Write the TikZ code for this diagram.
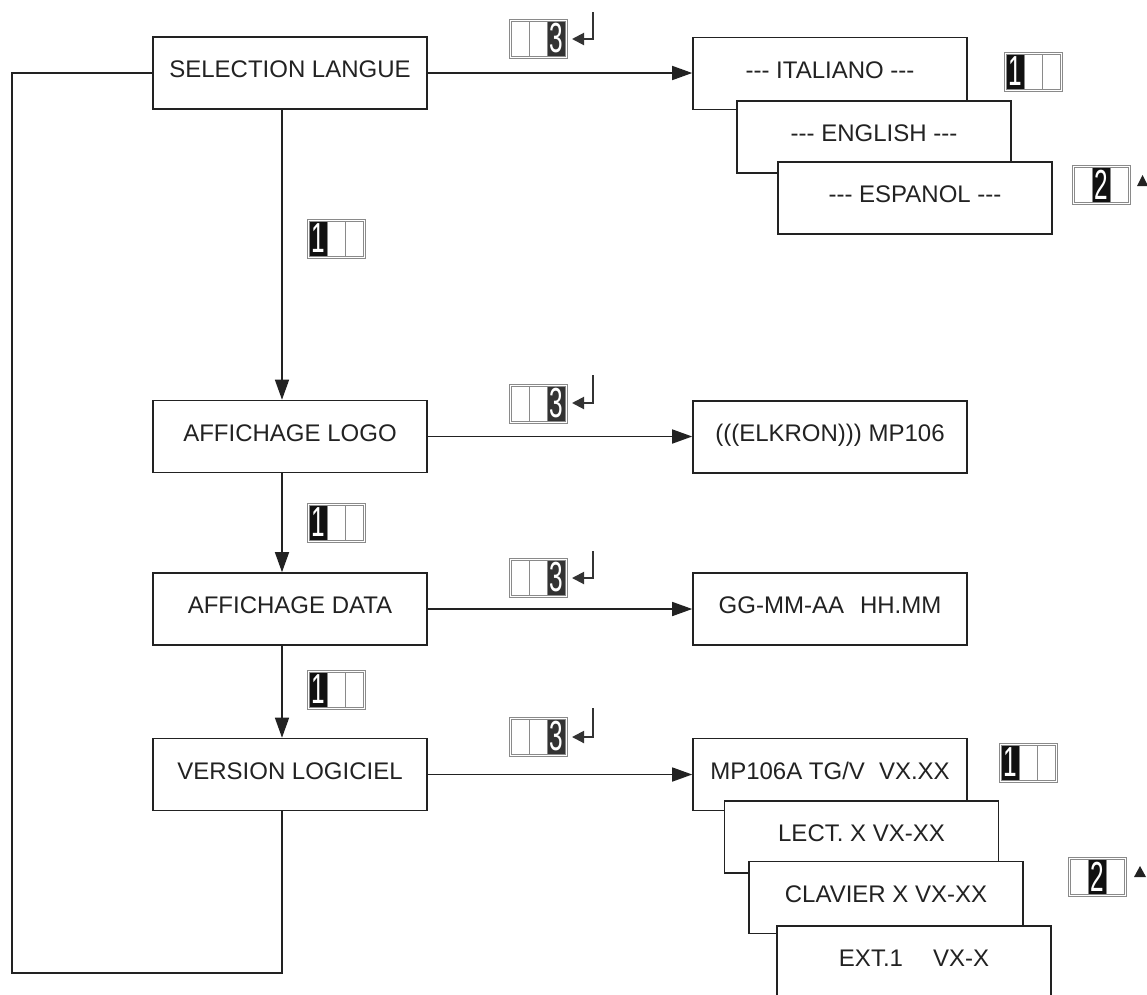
\documentclass[tikz,border=0pt]{standalone}
\usepackage{graphicx}
\usepackage{fontspec}
\setmainfont{Liberation Sans}[Ligatures=TeXOff]
\usetikzlibrary{arrows.meta}
\definecolor{ink}{HTML}{222222}
\definecolor{keygray}{HTML}{8A8A8A}
\definecolor{keydarkA}{HTML}{111111}
\definecolor{keydarkB}{HTML}{333333}
% #1 name, #2 left x, #3 top y, #4 dark cell (1..3), #5 digit, #6 dark colour
\newcommand\keyicon[6]{%
  \fill[#6] ({#2+2+(#4-1)*18},{#3+2}) rectangle ({#2+2+#4*18},{#3+37});
  \node[keyframe] (#1) at ({#2+29},{#3+19.5}) {};
  \draw[keyinner] ({#2+2},{#3+2}) rectangle ({#2+56},{#3+37});
  \draw[keysep] ({#2+20},{#3+2}) -- ({#2+20},{#3+37}) ({#2+38},{#3+2}) -- ({#2+38},{#3+37});
  \node[keydigit] (#1d) at ({#2+2+(#4-0.5)*18},{#3+19.5}) {\scalebox{0.58}[1]{#5}};
}
\begin{document}
\begin{tikzpicture}[x=1pt,y=-1pt,
  box/.style={draw=ink, line width=1.6pt, fill=white, minimum width=274pt, minimum height=72pt,
    inner sep=0pt, text height=17.2pt, text depth=8pt, font=\fontsize{24}{28}\selectfont, text=ink},
  conn/.style={draw=ink, line width=1.5pt},
  arr/.style={conn, -{Triangle[length=20pt,width=14pt]}},
  keyframe/.style={draw=keygray, line width=1pt, minimum width=58pt, minimum height=39pt, inner sep=0pt},
  keyinner/.style={draw=keygray, line width=0.8pt},
  keysep/.style={draw=keygray, line width=0.8pt},
  keydigit/.style={text=white, inner sep=0pt, font=\fontsize{42}{42}\selectfont},
  retarr/.style={draw=keydarkB, line width=2pt, -{Triangle[length=12pt,width=12pt]}},
]
\useasboundingbox (0,0) rectangle (1147,994);
\clip (0,0) rectangle (1147,994);
\fill[white] (0,0) rectangle (1147,994);

% left column
\node[box] (sel)  at (290,73)    {SELECTION LANGUE};
\node[box] (logo) at (290,436.5) {AFFICHAGE LOGO};
\node[box] (data) at (290,609)   {AFFICHAGE DATA};
\node[box] (ver)  at (290,774.5) {VERSION LOGICIEL};

% right column
\node[box] (ita) at (830,73.5) {--- ITALIANO ---};
\node[box] (eng) at (874,137)  {--- ENGLISH ---};
\node[box] (esp) at (915,198)  {--- ESPANOL ---};
\node[box] (elk) at (830,437)  {(((ELKRON))) MP106};
\node[box] (gg)  at (830,609)  {GG-MM-AA\hspace{16pt}HH.MM};
\node[box] (mp)   at (830,774.5) {MP106A TG/V\hspace{14pt}VX.XX};
\node[box] (lect) at (861.5,837) {LECT. X VX-XX};
\node[box] (clav) at (886,897.5) {CLAVIER X VX-XX};
\node[box] (ext)  at (914,962)   {EXT.1\hspace{30pt}VX-X};

% horizontal arrows
\draw[arr] (sel.east)  -- (sel.east -| ita.west);
\draw[arr] (logo.east) -- (logo.east -| elk.west);
\draw[arr] (data.east) -- (data.east -| gg.west);
\draw[arr] (ver.east)  -- (ver.east -| mp.west);

% vertical arrows
\draw[arr] ([xshift=-8pt]sel.south)  -- ([xshift=-8pt]logo.north);
\draw[arr] ([xshift=-8pt]logo.south) -- ([xshift=-8pt]data.north);
\draw[arr] ([xshift=-8pt]data.south) -- ([xshift=-8pt]ver.north);

% loop back
\coordinate (loopTL) at (12,73);
\coordinate (loopBL) at (12,973);
\coordinate (loopBR) at (282,973);
\draw[conn, line join=miter] (sel.west) -- (loopTL) -- (loopBL) -- (loopBR) -- ([xshift=-8pt]ver.south);
\draw[conn, line width=2.6pt] (loopTL) -- (loopBL);

% key icons "3" with return arrows
\keyicon{kA}{509}{19}{3}{3}{keydarkB}
\keyicon{kB}{509}{384}{3}{3}{keydarkB}
\keyicon{kC}{509}{558}{3}{3}{keydarkB}
\keyicon{kD}{509}{717}{3}{3}{keydarkB}
\coordinate (rAtop) at (593,12);  \coordinate (rAtip) at (572,39);
\coordinate (rBtop) at (593,375); \coordinate (rBtip) at (572,403);
\coordinate (rCtop) at (593,551); \coordinate (rCtip) at (572,578);
\coordinate (rDtop) at (593,708); \coordinate (rDtip) at (572,737);
\draw[retarr] (rAtop) |- (rAtip);
\draw[retarr] (rBtop) |- (rBtip);
\draw[retarr] (rCtop) |- (rCtip);
\draw[retarr] (rDtop) |- (rDtip);

% key icons "1"
\keyicon{kE}{307}{219}{1}{1}{keydarkA}
\keyicon{kF}{307}{503}{1}{1}{keydarkA}
\keyicon{kG}{307}{670}{1}{1}{keydarkA}
\keyicon{kH}{1004}{52}{1}{1}{keydarkA}
\keyicon{kI}{999}{743}{1}{1}{keydarkA}

% key icons "2" with up triangles
\keyicon{kJ}{1072}{165}{2}{2}{keydarkA}
\keyicon{kK}{1068}{857}{2}{2}{keydarkA}
\fill[ink] (1137,186) -- (1148,186) -- (1142.5,175) -- cycle;
\fill[ink] (1134,877) -- (1146,877) -- (1140,866) -- cycle;
\end{tikzpicture}
\end{document}
